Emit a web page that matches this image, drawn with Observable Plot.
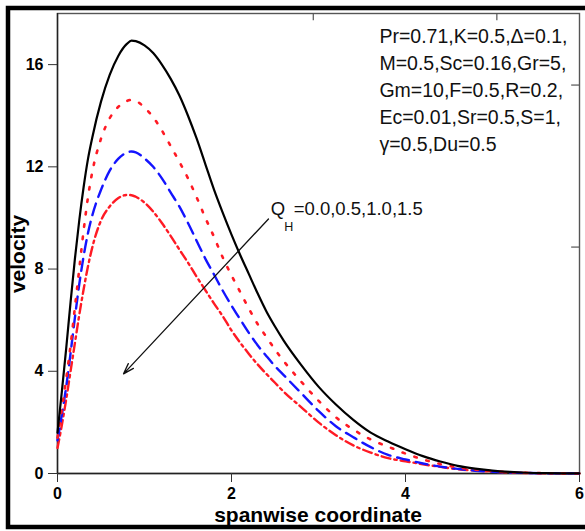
<!DOCTYPE html>
<html>
<head>
<meta charset="utf-8">
<script src="https://cdn.jsdelivr.net/npm/d3@7"></script>
<script src="https://cdn.jsdelivr.net/npm/@observablehq/plot@0.6"></script>
<style>
  html, body { margin: 0; padding: 0; background: #fff; }
  #chart { position: relative; width: 585px; height: 531px; overflow: hidden; }
  #chart svg { display: block; font-family: "Liberation Sans", Arial, sans-serif; }
</style>
</head>
<body>
<div id="chart"></div>
<script>
// spanwise coordinate grid
const xGrid = [0,0.05,0.1,0.15,0.2,0.25,0.3,0.35,0.4,0.5,0.6,0.7,0.8,0.85,0.9,
  1.0,1.1,1.2,1.3,1.4,1.5,1.6,1.7,1.8,1.9,2.0,2.1,2.2,2.3,2.4,2.5,2.6,
  2.8,3.0,3.2,3.4,3.6,3.8,4.0,4.2,4.4,4.6,4.8,5.0,5.2,5.4,5.6,5.8,6.0];

// velocity for Q_H = 0.0 (solid black)
const velQ00 = [1.6,3.2,4.9,6.7,8.4,9.9,11.2,12.3,13.15,14.55,15.6,16.35,16.82,16.94,16.92,
  16.75,16.45,16.0,15.45,14.8,14.0,13.1,12.1,11.1,10.2,9.35,8.55,7.8,7.05,6.35,5.75,5.2,
  4.25,3.4,2.7,2.1,1.6,1.25,0.95,0.68,0.47,0.3,0.19,0.11,0.06,0.03,0.015,0.006,0.002];
// Q_H = 0.5 (red dotted)
const velQ05 = [1.4,2.5,3.7,5.0,6.5,8.0,9.5,10.8,11.8,13.1,13.9,14.35,14.58,14.62,14.58,
  14.32,13.94,13.42,12.82,12.2,11.55,10.8,10.0,9.25,8.45,7.75,7.1,6.45,5.85,5.35,4.85,4.4,
  3.6,2.85,2.2,1.72,1.33,1.05,0.78,0.55,0.37,0.24,0.15,0.09,0.05,0.025,0.012,0.005,0.002];
// Q_H = 1.0 (blue dashed)
const velQ10 = [1.3,2.3,3.4,4.7,6.1,7.4,8.5,9.4,10.1,11.1,11.85,12.32,12.56,12.6,12.57,
  12.33,12.0,11.55,11.0,10.45,9.8,9.1,8.4,7.78,7.15,6.57,6.03,5.5,5.02,4.6,4.2,3.85,
  3.15,2.45,1.85,1.42,1.03,0.73,0.55,0.39,0.27,0.18,0.11,0.07,0.04,0.02,0.01,0.005,0.002];
// Q_H = 1.5 (red dash-dot)
const velQ15 = [1.0,1.9,2.9,4.0,5.1,6.2,7.2,8.1,8.85,9.9,10.45,10.78,10.9,10.89,10.83,
  10.6,10.25,9.8,9.3,8.77,8.25,7.7,7.17,6.65,6.15,5.6,5.12,4.68,4.27,3.9,3.55,3.2,
  2.6,2.0,1.5,1.1,0.82,0.6,0.48,0.36,0.26,0.17,0.11,0.07,0.04,0.02,0.01,0.005,0.002];

const xTicks = [0, 2, 4, 6];
const yTicks = [0, 4, 8, 12, 16];
const topFrameTicks = [2.94, 5.05];
const rightFrameTicks = [15.2, 8.86];

const paramText = "Pr=0.71,K=0.5,\u0394=0.1,\nM=0.5,Sc=0.16,Gr=5,\nGm=10,F=0.5,R=0.2,\nEc=0.01,Sr=0.5,S=1,\n\u03b3=0.5,Du=0.5";
const paramPos = [{x: 3.70, y: 17.6}];
const arrowData = [{x1: 2.425, y1: 9.96, x2: 0.759, y2: 3.90}];
const qLabelPos = [{x: 2.45, y: 10.33}];
const qMain = "Q", qSub = "H", qRest = "=0.0,0.5,1.0,1.5";

const pts = ys => xGrid.map((x, i) => ({x, y: ys[i]}));

const plot = Plot.plot({
  width: 585,
  height: 531,
  marginLeft: 57,
  marginRight: 6,
  marginTop: 13,
  marginBottom: 58,
  style: {fontFamily: "'Liberation Sans', Arial, sans-serif", background: "#fff", overflow: "visible"},
  x: {domain: [0, 6]},
  y: {domain: [0, 18]},
  marks: [
    Plot.frame({stroke: "#555", strokeWidth: 1.4}),
    Plot.ruleX([0], {stroke: "#222", strokeWidth: 1.4}),
    Plot.ruleY([0], {stroke: "#222", strokeWidth: 1.4}),
    Plot.ruleX(topFrameTicks, {y1: 18, y2: 17.72, stroke: "#555", strokeWidth: 1.2}),
    Plot.ruleY(rightFrameTicks, {x1: 6, x2: 5.91, stroke: "#555", strokeWidth: 1.2}),
    Plot.axisX(xTicks, {tickSize: 9, tickPadding: 5, fontSize: 16, fontWeight: "bold", fill: "#000", stroke: "#333", label: null, tickFormat: d => String(d)}),
    Plot.axisY(yTicks, {tickSize: 9, tickPadding: 5, fontSize: 16, fontWeight: "bold", fill: "#000", stroke: "#333", label: null, tickFormat: d => String(d)}),
    Plot.line(pts(velQ15), {x: "x", y: "y", stroke: "#ff1a24", strokeWidth: 2.4, strokeDasharray: "9,4,2.5,4", curve: "monotone-x"}),
    Plot.line(pts(velQ10), {x: "x", y: "y", stroke: "#1414ff", strokeWidth: 2.4, strokeDasharray: "12,7", curve: "monotone-x"}),
    Plot.line(pts(velQ05), {x: "x", y: "y", stroke: "#ff1a24", strokeWidth: 2.6, strokeDasharray: "2.5,10", curve: "monotone-x"}),
    Plot.line(pts(velQ00), {x: "x", y: "y", stroke: "#000", strokeWidth: 2.2, curve: "monotone-x"}),
    Plot.arrow(arrowData, {x1: "x1", y1: "y1", x2: "x2", y2: "y2", stroke: "#111", strokeWidth: 1.3, headLength: 13, headAngle: 36}),
    Plot.text(qLabelPos, {x: "x", y: "y", text: () => qMain, textAnchor: "start", fontSize: 18.5, fill: "#111"}),
    Plot.text(qLabelPos, {x: "x", y: "y", text: () => qSub, textAnchor: "start", fontSize: 12.5, dx: 13.5, dy: 17, fill: "#111"}),
    Plot.text(qLabelPos, {x: "x", y: "y", text: () => qRest, textAnchor: "start", fontSize: 18.5, dx: 23, fill: "#111"}),
    Plot.text(paramPos, {x: "x", y: "y", text: () => paramText, textAnchor: "start", lineAnchor: "top", fontSize: 19.5, lineHeight: 1.39, fill: "#111"})
  ]
});

const svg = d3.select(plot);
svg.append("text")
  .attr("transform", "translate(25,254) rotate(-90)")
  .attr("text-anchor", "middle")
  .attr("font-size", 21).attr("font-weight", "bold").attr("fill", "#000")
  .text("velocity");
svg.append("text")
  .attr("x", 318).attr("y", 522)
  .attr("text-anchor", "middle")
  .attr("font-size", 21).attr("font-weight", "bold").attr("fill", "#000")
  .text("spanwise coordinate");
svg.append("rect")
  .attr("x", 8).attr("y", 8).attr("width", 600).attr("height", 519)
  .attr("fill", "none").attr("stroke", "#000").attr("stroke-width", 4.5);

document.getElementById("chart").appendChild(plot);
</script>
</body>
</html>
